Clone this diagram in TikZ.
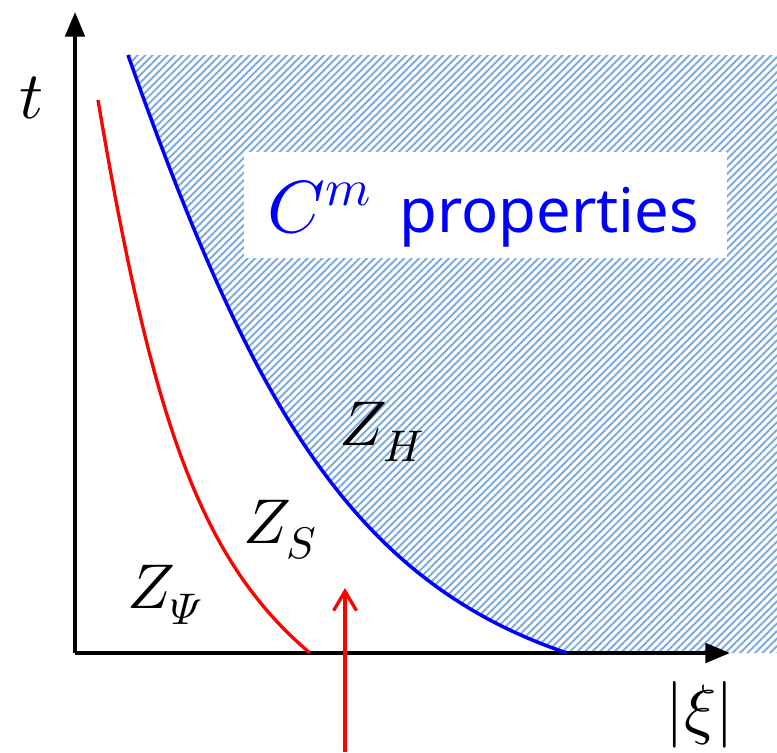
\documentclass[tikz,border=0pt]{standalone}
\usepackage{fontspec}
\usepackage[math-style=ISO]{unicode-math}
\setsansfont{Noto Sans}
\setmathfont{Latin Modern Math}
\usepackage{tikz}
\usetikzlibrary{arrows.meta,patterns.meta}

\definecolor{hatchblue}{RGB}{125,170,222}

\begin{document}
\begin{tikzpicture}[x=0.02cm, y=-0.02cm,
    axis/.style={line width=2.2pt, -{Triangle[length=14pt, width=11pt]}},
    zone/.style={font=\fontsize{36}{40}\selectfont},
    hcurve/.style={line width=2pt, blue},
    scurve/.style={line width=1.9pt, red},
    probe/.style={line width=1.9pt, red, -{Straight Barb[length=11pt, width=13pt, line width=1.9pt]}},
    hatch/.style={pattern={Lines[angle=45, distance=3pt, line width=1.1pt]}, pattern color=hatchblue}]
  \useasboundingbox (0,0) rectangle (777,752);
  % hatched zone right of Z_H boundary
  \path[hatch] (128,55) .. controls (250,400) and (350,580) .. (567,653) -- (777,653) -- (777,55) -- cycle;
  \node[fill=white, minimum width=483*0.02cm, minimum height=106*0.02cm, inner sep=0pt] (cbox) at (485,205) {};
  \node[blue, font=\sffamily\fontsize{35}{40}\selectfont] (cm) at (483,214)
    {{\fontsize{42}{46}\selectfont$C^m$}\hspace{16pt}properties};
  % axes
  \coordinate (o) at (75,653);
  \coordinate (tend) at (75,12);
  \coordinate (xend) at (730,653);
  \draw[axis] (o) -- (tend);
  \draw[axis] (o) -- (xend);
  \node[font=\fontsize{38}{44}\selectfont] (tlab) at (32,98) {$t$};
  \node[font=\fontsize{38}{44}\selectfont] (xilab) at (700,715) {$|\xi|$};
  % boundaries
  \draw[scurve] (98,100) .. controls (152,420) and (200,560) .. (310,653);
  \draw[hcurve] (128,55) .. controls (250,400) and (350,580) .. (567,653);
  \node[zone] (zpsi) at (165,595) {$Z_\Psi$};
  \node[zone] (zs) at (280,530) {$Z_S$};
  \node[zone] (zh) at (382,432) {$Z_H$};
  \coordinate (pfoot) at (345,752);
  \coordinate (phead) at (345,588);
  \draw[probe] (pfoot) -- (phead);
\end{tikzpicture}
\end{document}
